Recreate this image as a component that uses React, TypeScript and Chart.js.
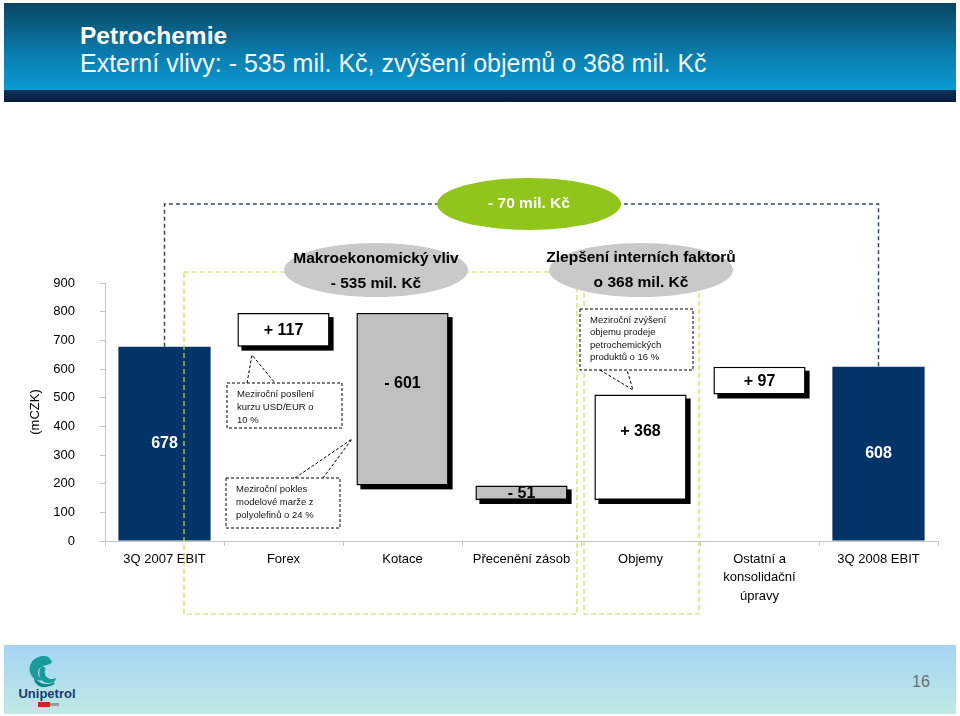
import React, { useEffect, useRef } from "react";
import { Chart, registerables } from "chart.js";

Chart.register(...registerables);

// ---------- data ----------
const categories: (string | string[])[] = [
  "3Q 2007 EBIT",
  "Forex",
  "Kotace",
  "Přecenění zásob",
  "Objemy",
  ["Ostatní a", "konsolidační", "úpravy"],
  "3Q 2008 EBIT",
];
const startValue = 678;
const changeValues = [117, -601, -51, 368, 97];
const endValue = 608;
const yMin = 0;
const yMax = 900;
const yStep = 100;

const FONT = "Arial, 'Liberation Sans', sans-serif";

// totals (navy) and floating change bars built from the arrays above
const totalsData: (number | null)[] = [startValue, ...changeValues.map(() => null), endValue];
const changesData: ([number, number] | null)[] = (() => {
  const out: ([number, number] | null)[] = [null];
  let cum = startValue;
  changeValues.forEach((c) => {
    out.push([cum, cum + c]);
    cum += c;
  });
  out.push(null);
  return out;
})();
const changeColors = [null, ...changeValues.map((c) => (c > 0 ? "#ffffff" : "#c0c0c0")), null];
const changeLabels: (string | null)[] = [null, ...changeValues.map((c) => `${c > 0 ? "+" : "-"} ${Math.abs(c)}`), null];

const shadowPlugin = {
  id: "barShadow",
  beforeDatasetDraw(chart: any, args: any) {
    if (args.index !== 1) return;
    const ctx = chart.ctx;
    const meta = chart.getDatasetMeta(1);
    ctx.save();
    ctx.fillStyle = "#000";
    meta.data.forEach((el: any, i: number) => {
      if (!changesData[i]) return;
      const { x, y, base, width } = el.getProps(["x", "y", "base", "width"], true);
      const top = Math.min(y, base);
      const h = Math.abs(y - base);
      ctx.fillRect(x - width / 2 + 4, top + 4, width, h);
    });
    ctx.restore();
  },
};

const labelPlugin = {
  id: "barLabels",
  afterDatasetsDraw(chart: any) {
    const ctx = chart.ctx;
    ctx.save();
    ctx.textAlign = "center";
    ctx.textBaseline = "middle";
    ctx.font = `bold 16px ${FONT}`;
    const m0 = chart.getDatasetMeta(0);
    m0.data.forEach((el: any, i: number) => {
      const v = totalsData[i];
      if (v == null) return;
      const { x, y, base } = el.getProps(["x", "y", "base"], true);
      ctx.fillStyle = "#fff";
      ctx.fillText(String(v), x, (y + base) / 2);
    });
    const m1 = chart.getDatasetMeta(1);
    m1.data.forEach((el: any, i: number) => {
      const t = changeLabels[i];
      if (!t) return;
      const { x, y, base } = el.getProps(["x", "y", "base"], true);
      const top = Math.min(y, base);
      const h = Math.abs(y - base);
      const cy = h > 60 ? top + h / 2 - 16 : top + h / 2 + 1;
      ctx.fillStyle = "#000";
      ctx.fillText(t, x, cy);
    });
    ctx.restore();
  },
};

function dashed(ctx: CanvasRenderingContext2D, pts: number[][], color: string, dash: number[], w: number) {
  ctx.save();
  ctx.strokeStyle = color;
  ctx.lineWidth = w;
  ctx.setLineDash(dash);
  ctx.beginPath();
  pts.forEach((p, i) => (i === 0 ? ctx.moveTo(p[0], p[1]) : ctx.lineTo(p[0], p[1])));
  ctx.stroke();
  ctx.restore();
}

function ellipse(ctx: CanvasRenderingContext2D, cx: number, cy: number, rx: number, ry: number, fill: string) {
  ctx.save();
  ctx.fillStyle = fill;
  ctx.beginPath();
  ctx.ellipse(cx, cy, rx, ry, 0, 0, Math.PI * 2);
  ctx.fill();
  ctx.restore();
}

function textLines(ctx: CanvasRenderingContext2D, lines: string[], x: number, y: number, lh: number, font: string, color: string, align: CanvasTextAlign) {
  ctx.save();
  ctx.font = font;
  ctx.fillStyle = color;
  ctx.textAlign = align;
  ctx.textBaseline = "middle";
  lines.forEach((l, i) => ctx.fillText(l, x, y + i * lh));
  ctx.restore();
}

function callout(ctx: CanvasRenderingContext2D, box: number[], tipA: number[], tipB: number[], tip: number[], lines: string[], lh: number) {
  const [x1, y1, x2, y2] = box;
  ctx.save();
  ctx.fillStyle = "#fff";
  ctx.fillRect(x1, y1, x2 - x1, y2 - y1);
  ctx.restore();
  dashed(ctx, [[x1, y1], [x2, y1], [x2, y2], [x1, y2], [x1, y1]], "#000", [3, 2], 1);
  dashed(ctx, [tipA, tip, tipB], "#000", [3, 2], 1);
  textLines(ctx, lines, x1 + 10, y1 + 11, lh, `9.5px ${FONT}`, "#111", "left");
}

const decorPlugin = {
  id: "decor",
  afterDraw(chart: any) {
    const ctx: CanvasRenderingContext2D = chart.ctx;
    const xs = chart.scales.x;
    const ys = chart.scales.y;
    const yellow = "#d3dc48";
    // yellow-green dashed groups
    dashed(ctx, [[184, 272], [577, 272], [577, 614], [184, 614], [184, 272]], yellow, [5, 3], 1.2);
    dashed(ctx, [[584, 272], [699, 272], [699, 614], [584, 614], [584, 272]], yellow, [5, 3], 1.2);
    // dark dashed connector between EBIT bars
    const xL = xs.getPixelForValue(0);
    const xR = xs.getPixelForValue(categories.length - 1);
    dashed(
      ctx,
      [[xL, ys.getPixelForValue(startValue)], [xL, 204], [xR, 204], [xR, ys.getPixelForValue(endValue)]],
      "#34495e",
      [4, 3],
      1.5
    );
    // green ellipse
    ellipse(ctx, 529, 204, 92, 26, "#92c51b");
    textLines(ctx, ["- 70 mil. Kč"], 529, 204, 0, `bold 15.5px ${FONT}`, "#fff", "center");
    // gray ellipses
    ellipse(ctx, 376, 270, 92, 27, "#c9c9c9");
    textLines(ctx, ["Makroekonomický vliv", "- 535 mil. Kč"], 376, 259, 25, `bold 15.5px ${FONT}`, "#000", "center");
    ellipse(ctx, 641, 270, 92, 27, "#c9c9c9");
    textLines(ctx, ["Zlepšení interních faktorů", "o 368 mil. Kč"], 641, 258, 25, `bold 15.5px ${FONT}`, "#000", "center");
    // callouts
    callout(ctx, [227, 383, 342, 428], [247, 383], [275, 383], [252, 355], ["Meziroční posílení", "kurzu USD/EUR o", "10 %"], 13);
    callout(ctx, [226, 478, 340, 528], [295, 478], [323, 478], [352, 439], ["Meziroční pokles", "modelové marže z", "polyolefinů o 24 %"], 13);
    callout(ctx, [580, 309, 693, 370], [600, 370], [627, 370], [633, 390], ["Meziroční zvýšení", "objemu prodeje", "petrochemických", "produktů o 16 %"], 12.6);
  },
};

export default function App() {
  const ref = useRef<HTMLCanvasElement | null>(null);

  useEffect(() => {
    document.body.style.margin = "0";
    const canvas = ref.current;
    if (!canvas) return;
    const chart = new Chart(canvas, {
      type: "bar",
      data: {
        labels: categories as any,
        datasets: [
          {
            data: totalsData as any,
            backgroundColor: "#023468",
            borderWidth: 0,
            grouped: false,
            barPercentage: 0.775,
            categoryPercentage: 1,
          } as any,
          {
            data: changesData as any,
            backgroundColor: changeColors as any,
            borderColor: "#000",
            borderWidth: 1.5,
            borderSkipped: false,
            grouped: false,
            barPercentage: 0.775,
            categoryPercentage: 1,
          } as any,
        ],
      },
      options: {
        responsive: false,
        animation: false,
        devicePixelRatio: 1,
        layout: { padding: { top: 283, right: 22, left: 0, bottom: 0 } },
        plugins: { legend: { display: false }, tooltip: { enabled: false }, title: { display: false } },
        scales: {
          x: {
            grid: { drawOnChartArea: false, offset: true, tickLength: 5, color: "#c4c4c4" },
            border: { color: "#c4c4c4" },
            ticks: {
              color: "#000",
              font: { family: FONT, size: 13, lineHeight: 1.42 },
              padding: 4,
              maxRotation: 0,
              autoSkip: false,
            },
            afterFit: (s: any) => {
              s.height = 175;
            },
          },
          y: {
            min: yMin,
            max: yMax,
            grid: { drawOnChartArea: false, tickLength: 5, color: "#c4c4c4" },
            border: { color: "#c4c4c4" },
            ticks: { stepSize: yStep, color: "#000", font: { family: FONT, size: 13 }, padding: 25 },
            title: {
              display: true,
              text: "(mCZK)",
              color: "#000",
              font: { family: FONT, size: 13 },
              padding: { top: 28, bottom: 0 },
            },
            afterFit: (s: any) => {
              s.width = 105;
            },
          },
        },
      } as any,
      plugins: [shadowPlugin, labelPlugin, decorPlugin],
    });
    return () => chart.destroy();
  }, []);

  return (
    <div style={{ position: "fixed", left: 0, top: 0, width: 960, height: 716, background: "#fff", overflow: "hidden", fontFamily: FONT }}>
      <div style={{ position: "absolute", left: 4, top: 3, width: 952, height: 87, background: "linear-gradient(#0b4560, #0a79a9 55%, #0a9bd3)" }} />
      <div style={{ position: "absolute", left: 4, top: 90, width: 952, height: 12, background: "linear-gradient(#0e3159, #061d3d)" }} />
      <div style={{ position: "absolute", left: 80, top: 24, color: "#fff", fontSize: 24.5, lineHeight: "24px", fontWeight: "bold", whiteSpace: "nowrap" }}>Petrochemie</div>
      <div style={{ position: "absolute", left: 80, top: 51, color: "#f2f8fc", fontSize: 25, lineHeight: "24px", whiteSpace: "nowrap" }}>
        Externí vlivy: - 535 mil. Kč, zvýšení objemů o 368 mil. Kč
      </div>
      <div style={{ position: "absolute", left: 4, top: 645, width: 952, height: 69, background: "linear-gradient(#a3d4f4, #c0e9e4)" }} />
      <svg style={{ position: "absolute", left: 12, top: 652 }} width={70} height={58}>
        <path d="M32 4 C22 4 16 12 18 20 C20 27 26 30 32 28 C26 26 24 20 28 16 C32 12 38 14 40 10 C38 6 36 4 32 4 Z" fill="#1a9a9a" />
        <path d="M30 14 C26 18 26 26 32 30 C38 33 44 30 44 26 C40 28 34 27 33 22 C32 18 36 16 30 14 Z" fill="#1a9a9a" />
        <path d="M22 26 C22 32 28 36 34 35 C40 34 44 32 42 30 C36 34 28 32 22 26 Z" fill="#17868a" />
        <text x={35} y={46} textAnchor="middle" fontFamily={FONT} fontWeight="bold" fontSize={13} fill="#1c3a6c">Unipetrol</text>
        <rect x={26} y={50} width={12} height={5} fill="#d42020" />
        <rect x={38} y={51} width={9} height={3} fill="#999" />
      </svg>
      <div style={{ position: "absolute", left: 912, top: 674, color: "#6d6d6d", fontSize: 16, lineHeight: "16px" }}>16</div>
      <canvas ref={ref} width={960} height={716} style={{ position: "absolute", left: 0, top: 0, width: 960, height: 716 }} />
    </div>
  );
}
